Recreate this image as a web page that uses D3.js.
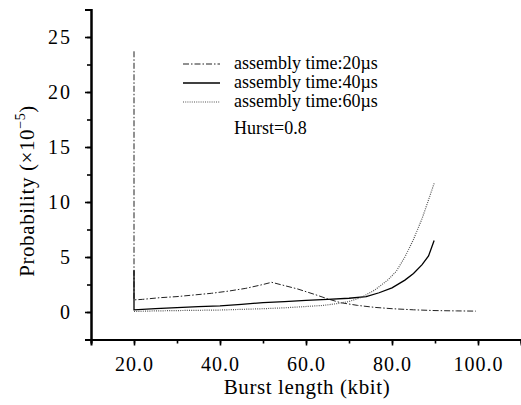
<!DOCTYPE html>
<html>
<head>
<meta charset="utf-8">
<script src="https://cdn.jsdelivr.net/npm/d3@7"></script>
<style>
  body { margin: 0; background: #fff; }
  svg text { font-family: "Times New Roman", "Liberation Serif", Tinos, "DejaVu Serif", serif !important; }
</style>
</head>
<body>
<svg id="chart" width="521" height="405"></svg>
<script>
let svg = d3.select("#chart");

// data (x: kbit, y: x10^-5)
let series20 = [[20,23.7],[20,1.1],[22,1.15],[26,1.3],[30,1.4],[34,1.55],[38,1.7],[42,1.9],[46,2.15],[50,2.5],[52,2.7],[54,2.5],[58,2.1],[62,1.6],[65,1.2],[68,0.85],[72,0.6],[76,0.42],[80,0.3],[85,0.2],[90,0.13],[95,0.1],[99.5,0.08]];
let series40 = [[20,3.8],[20,0.2],[25,0.3],[30,0.4],[35,0.48],[40,0.55],[45,0.7],[50,0.85],[55,0.95],[60,1.05],[65,1.15],[70,1.25],[74,1.4],[77,1.75],[80,2.2],[83,2.9],[85,3.5],[87,4.3],[88.5,5.1],[89.8,6.5]];
let series60 = [[20,0.05],[25,0.1],[30,0.13],[40,0.18],[50,0.3],[55,0.38],[60,0.5],[64,0.6],[67,0.75],[70,0.95],[73,1.35],[76,2.0],[79,2.9],[81,3.7],[83,5.0],[85,6.6],[87,8.5],[88.5,10.2],[89.8,11.7]];

let legendLabels = ["assembly time:20\u00b5s", "assembly time:40\u00b5s", "assembly time:60\u00b5s"];
let xTicks = [20, 40, 60, 80, 100];
let yTicks = [0, 5, 10, 15, 20, 25];

let xScale = d3.scaleLinear().domain([10, 110]).range([91, 521]);
let yScale = d3.scaleLinear().domain([-2.5, 27.5]).range([339.5, 9.5]);

let styles = [
  {dash: "6,2,1.5,2", width: 1, color: "#222"},
  {dash: null, width: 1.3, color: "#000"},
  {dash: "1,1.2", width: 1.2, color: "#555"}
];

// minor ticks
let xAxisMinor = d3.axisBottom(xScale).tickValues(d3.range(10, 111, 10)).tickSize(4).tickFormat("");
let xAxis = d3.axisBottom(xScale).tickValues(xTicks).tickSize(6).tickFormat(d3.format(".1f"));
let yAxisMinor = d3.axisLeft(yScale).tickValues(d3.range(-2.5, 27.6, 2.5)).tickSize(4).tickFormat("");
let yAxis = d3.axisLeft(yScale).tickValues(yTicks).tickSize(6);

svg.append("g").attr("transform", "translate(0,339.5)").call(xAxisMinor);
let gx = svg.append("g").attr("transform", "translate(0,339.5)").call(xAxis);
svg.append("g").attr("transform", "translate(91,0)").call(yAxisMinor);
let gy = svg.append("g").attr("transform", "translate(91,0)").call(yAxis);

svg.selectAll(".domain").attr("stroke", "#000").attr("stroke-width", 2);
svg.selectAll(".tick line").attr("stroke", "#000").attr("stroke-width", 1.6);

gx.selectAll("text").attr("font-size", 20).attr("letter-spacing", 1).attr("y", 27).attr("dy", 0)
  .attr("dominant-baseline", "middle");
gy.selectAll("text").attr("font-size", 20).attr("letter-spacing", 2).attr("dx", "-0.5em");

// titles
svg.append("text")
   .attr("x", 307).attr("y", 394)
   .attr("text-anchor", "middle")
   .attr("font-size", 21)
   .attr("letter-spacing", 0.6)
   .text("Burst length (kbit)");

let yTitle = svg.append("text")
   .attr("transform", "translate(34,191) rotate(-90)")
   .attr("text-anchor", "middle")
   .attr("font-size", 21)
   .attr("letter-spacing", 0.6);
yTitle.append("tspan").text("Probability (\u00d710");
yTitle.append("tspan").attr("font-size", 14).attr("dy", -9).text("\u22125");
yTitle.append("tspan").attr("dy", 9).text(")");

// lines
let lineGen = d3.line()
                .x(d => xScale(d[0]))
                .y(d => yScale(d[1]));

[series20, series40, series60].forEach((s, i) => {
  svg.append("path")
     .datum(s)
     .attr("d", lineGen)
     .attr("fill", "none")
     .attr("stroke", styles[i].color)
     .attr("stroke-width", styles[i].width)
     .attr("stroke-dasharray", styles[i].dash);
});

// legend
let legendY = [64, 83, 102];
legendLabels.forEach((label, i) => {
  svg.append("line")
     .attr("x1", 183).attr("x2", 220)
     .attr("y1", legendY[i]).attr("y2", legendY[i])
     .attr("stroke", styles[i].color)
     .attr("stroke-width", styles[i].width)
     .attr("stroke-dasharray", styles[i].dash);
  svg.append("text")
     .attr("x", 234).attr("y", legendY[i] + 5)
     .attr("font-size", 18)
     .text(label);
});
svg.append("text")
   .attr("x", 234).attr("y", 134)
   .attr("font-size", 18)
   .text("Hurst=0.8");
</script>
</body>
</html>
